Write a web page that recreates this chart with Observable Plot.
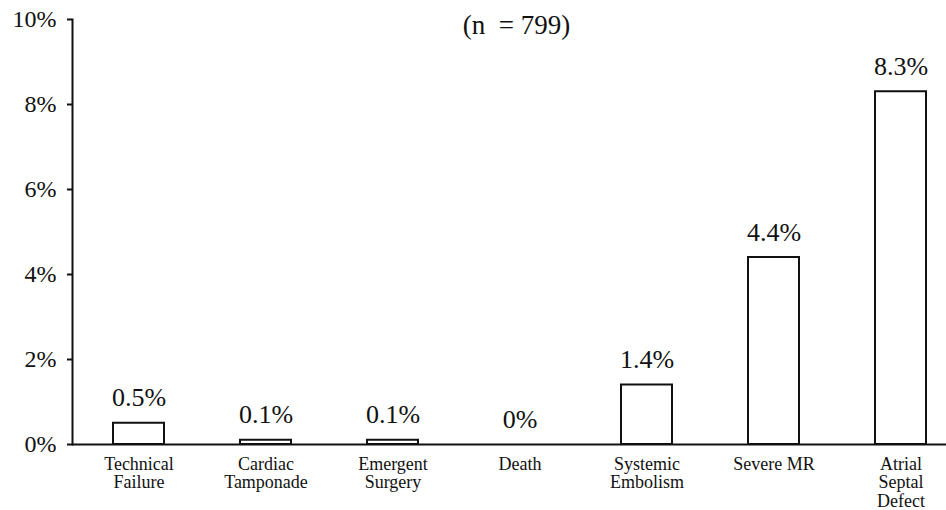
<!DOCTYPE html>
<html>
<head>
<meta charset="utf-8">
<script src="https://cdn.jsdelivr.net/npm/d3@7"></script>
<script src="https://cdn.jsdelivr.net/npm/@observablehq/plot@0.6"></script>
<style>
  html, body { margin: 0; padding: 0; background: #fff; }
  svg, svg text, svg g { font-family: "Liberation Serif", "Tinos", "Times New Roman", "DejaVu Serif", serif !important; }
</style>
</head>
<body>
<div id="chart"></div>
<script>
const categories = ["Technical Failure", "Cardiac Tamponade", "Emergent Surgery", "Death", "Systemic Embolism", "Severe MR", "Atrial Septal Defect"];
const tickLabels = ["Technical\nFailure", "Cardiac\nTamponade", "Emergent\nSurgery", "Death", "Systemic\nEmbolism", "Severe MR", "Atrial\nSeptal\nDefect"];
const values = [0.5, 0.1, 0.1, 0, 1.4, 4.4, 8.3];
const valueLabels = ["0.5%", "0.1%", "0.1%", "0%", "1.4%", "4.4%", "8.3%"];
const yTicks = [0, 2, 4, 6, 8, 10];
const title = "(n\u00a0 = 799)";

const data = categories.map((c, i) => ({category: c, value: values[i], label: valueLabels[i]}));
const labelOf = new Map(categories.map((c, i) => [c, tickLabels[i]]));
const serif = "'Liberation Serif', 'Tinos', 'Times New Roman', 'DejaVu Serif', serif";

const chart = Plot.plot({
  width: 946,
  height: 510,
  marginLeft: 72,
  marginRight: 0,
  marginTop: 19,
  marginBottom: 66,
  style: {fontFamily: serif, color: "#111", background: "#fff"},
  x: {type: "band", domain: categories, range: [111, 928], paddingInner: 0.6, paddingOuter: 0, label: null},
  y: {domain: [0, 10], label: null},
  marks: [
    Plot.barY(data, {x: "category", y: "value", fill: "white", stroke: "#111", strokeWidth: 2}),
    Plot.ruleY([0], {stroke: "#111", strokeWidth: 2}),
    Plot.frame({anchor: "left", stroke: "#111", strokeWidth: 2}),
    Plot.axisY({ticks: yTicks, tickFormat: d => d + "%", tickSize: 5, tickPadding: 11, fontSize: 24, fontFamily: serif, stroke: "#111", strokeWidth: 2, label: null}),
    Plot.axisX({tickSize: 0, tickPadding: 12, fontSize: 18, fontFamily: serif, lineHeight: 1.03, tickFormat: d => labelOf.get(d), label: null}),
    Plot.text(data, {x: "category", y: "value", text: "label", lineAnchor: "bottom", dy: -17, fontSize: 26, fontFamily: serif, fill: "#111"}),
    Plot.text([title], {frameAnchor: "top", dx: 7, dy: 14, lineAnchor: "bottom", fontSize: 27, fontFamily: serif, fill: "#111"})
  ]
});
document.getElementById("chart").appendChild(chart);
</script>
</body>
</html>
